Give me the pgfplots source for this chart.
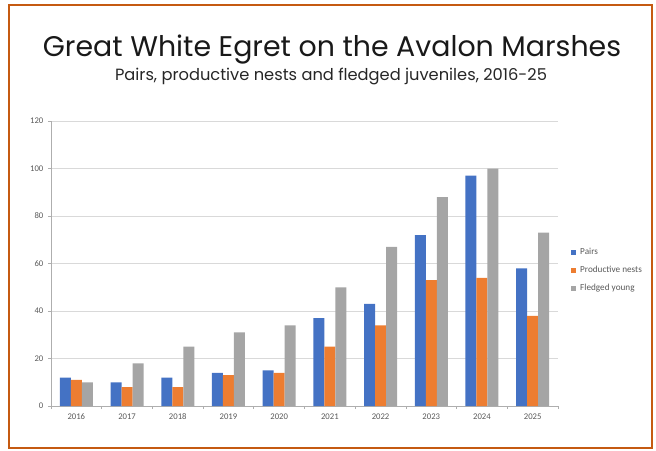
\documentclass[border=0pt]{standalone}
\usepackage{pgfplots}
\pgfplotsset{compat=1.18}
\usepackage{fontspec}
\setmainfont{Carlito}
\newfontfamily\titlefont{Poppins}
\definecolor{cblue}{HTML}{4472C4}
\definecolor{corange}{HTML}{ED7D31}
\definecolor{cgray}{HTML}{A5A5A5}
\definecolor{framec}{HTML}{C55A11}
\definecolor{gridc}{HTML}{D9D9D9}
\definecolor{labc}{HTML}{595959}

\begin{document}
\begin{tikzpicture}
\begin{scope}[x=0.75pt,y=-0.75pt]
  \path[use as bounding box] (0,0) rectangle (656,450);
  \draw[framec, line width=1.5pt] (8.5,5) rectangle (652,448);
  \node[font=\titlefont\fontsize{21.3}{25}\selectfont, anchor=base, text=black!90, inner sep=0pt]
    at (332,56) {Great White Egret on the Avalon Marshes};
  \node[font=\titlefont\fontsize{12.2}{15}\selectfont, anchor=base, text=black!85, inner sep=0pt]
    at (331,80) {Pairs, productive nests and fledged juveniles, 2016-25};
\end{scope}
\begin{axis}[
    at={(38.25pt,-304.5pt)}, anchor=south west,
    scale only axis,
    width=380.25pt, height=213.75pt,
    ybar=0pt, bar width=8.25pt,
    xmin=-0.5, xmax=9.5,
    ymin=0, ymax=120,
    ytick={0,20,...,120},
    xtick={0,...,9},
    xticklabels={2016,2017,2018,2019,2020,2021,2022,2023,2024,2025},
    minor xtick={-0.5,0.5,...,9.5},
    major x tick style={draw=none},
    minor x tick style={draw=gridc!80!black, line width=0.6pt},
    ytick style={draw=gridc!80!black, line width=0.6pt},
    tick align=outside,
    major tick length=2.25pt, minor tick length=2.25pt,
    axis x line*=bottom, axis y line*=left,
    axis line style={draw=gridc!80!black, line width=0.6pt},
    ymajorgrids, grid style={draw=gridc, line width=0.6pt},
    tick label style={font=\fontsize{6.5}{7}\selectfont, text=labc},
    /pgf/number format/assume math mode=true,
    legend style={at={(1.017,0.475)}, anchor=west, draw=none, fill=none,
      font=\fontsize{6.9}{8}\selectfont, text=labc, row sep=3.1pt,
      /tikz/every odd column/.append style={column sep=1pt}},
    legend cell align=left,
    legend image code/.code={\fill[#1] (0pt,-2pt) rectangle (4pt,2pt);},
]
\addplot[fill=cblue, draw=none] coordinates {
  (0,12) (1,10) (2,12) (3,14) (4,15) (5,37) (6,43) (7,72) (8,97) (9,58)};
\addplot[fill=corange, draw=none] coordinates {
  (0,11) (1,8) (2,8) (3,13) (4,14) (5,25) (6,34) (7,53) (8,54) (9,38)};
\addplot[fill=cgray, draw=none] coordinates {
  (0,10) (1,18) (2,25) (3,31) (4,34) (5,50) (6,67) (7,88) (8,100) (9,73)};
\legend{Pairs, Productive nests, Fledged young}
\end{axis}
\end{tikzpicture}
\end{document}
